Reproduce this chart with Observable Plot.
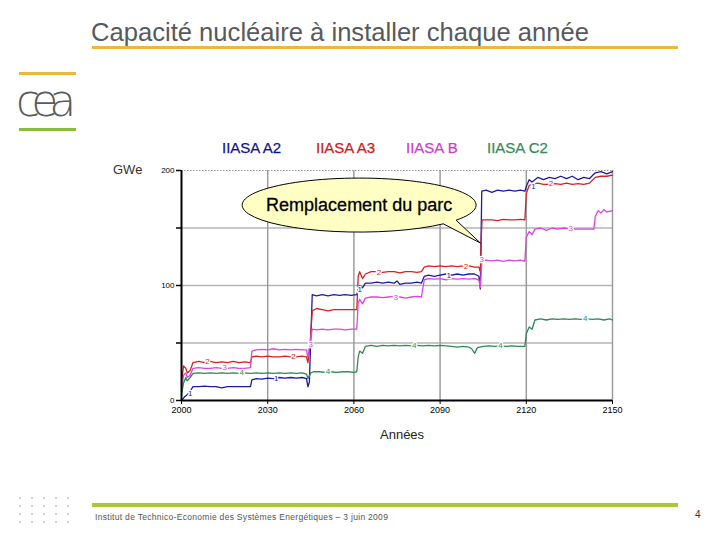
<!DOCTYPE html>
<html><head><meta charset="utf-8">
<script src="https://cdn.jsdelivr.net/npm/d3@7"></script>
<script src="https://cdn.jsdelivr.net/npm/@observablehq/plot@0.6"></script>
<style>
html,body{margin:0;padding:0;background:#fff;}
#page{position:relative;width:723px;height:539px;overflow:hidden;font-family:"Liberation Sans",Arial,sans-serif;}
.abs{position:absolute;white-space:nowrap;line-height:1;}
</style></head><body><div id="page"></div>
<script>
// ---- data ----
const titleText = "Capacité nucléaire à installer chaque année";
const unitLabel = "GWe";
const xLabel = "Années";
const footerText = "Institut de Technico-Economie des Systèmes Energétiques  –  3 juin 2009";
const pageNumber = "4";
const seriesNames = ["IIASA A2", "IIASA A3", "IIASA B", "IIASA C2"];
const seriesTags = ["1", "2", "3", "4"];
const xTicks = [2000, 2030, 2060, 2090, 2120, 2150];
const yTicks = [0, 50, 100, 150, 200];
const yTickLabels = [0, 100, 200];

const seriesA2 = [[2000,0],[2001,3],[2002,5],[2003,8],[2004,12],[2006,12],[2008,12.5],[2010,12],[2012,12],[2014,11],[2016,12],[2018,12],[2020,12],[2022,12],[2024,12],[2024.5,18],[2026,19],[2028,18.5],[2030,19.5],[2032,19],[2034,20],[2036,19.5],[2038,20],[2040,19.5],[2042,20],[2043.5,19],[2044,12],[2044.5,16],[2045.5,92],[2047,91],[2049,92],[2051,91],[2053,92],[2055,91.5],[2057,92],[2059,91.5],[2061,92],[2061.5,96],[2062,100],[2063,98],[2064,102],[2066,102],[2068,103],[2070,102],[2072,103],[2074,102],[2075,104],[2076,101],[2078,102],[2080,102],[2082,103],[2083.5,102],[2084.5,108],[2086,109],[2088,108],[2090,109],[2092,110],[2094,109],[2096,110],[2098,109],[2100,110],[2102,110],[2103.5,108],[2104,97],[2104.5,182],[2106,183],[2108,181],[2110,183],[2112,182],[2114,183],[2116,182],[2118,183],[2119.5,182],[2120,186],[2121,192],[2122,190],[2124,194],[2126,192],[2128,194],[2130,193],[2132,195],[2134,193],[2136,195],[2138,192],[2140,194],[2142,193],[2144,198],[2146,199],[2148,197],[2150,199]];
const seriesA3 = [[2000,15],[2000.7,30],[2001.5,28],[2002,24],[2003,26],[2004,33],[2006,34],[2008,33],[2010,34],[2012,33],[2014,33.5],[2016,33],[2018,34],[2020,33],[2022,33.5],[2024,33],[2024.5,38],[2026,38.5],[2028,38],[2030,38.5],[2032,38],[2034,38],[2036,38.5],[2038,38],[2040,38],[2042,38.5],[2043.5,38],[2044,33],[2044.8,50],[2045.5,78],[2047,80],[2049,79],[2051,78],[2053,79],[2055,79],[2057,79],[2059,79],[2061,79],[2061.5,108],[2062,112],[2063,106],[2064,110],[2066,112],[2068,112],[2070,111.5],[2072,112],[2074,112],[2076,111],[2078,112],[2080,112],[2082,111.5],[2083.5,112],[2084.5,116],[2086,117],[2088,116.5],[2090,117],[2092,116.5],[2094,117],[2096,116.5],[2098,117],[2100,117],[2102,116],[2103.5,116],[2104,112],[2104.3,140],[2104.6,157],[2106,157],[2108,157],[2110,156.5],[2112,157.5],[2114,157],[2116,157],[2118,157.5],[2119.5,157],[2120,180],[2121,187],[2122,188],[2124,189],[2126,188],[2128,188],[2130,188.5],[2132,188],[2134,189],[2136,188],[2138,188.5],[2140,188],[2142,189],[2144,194],[2146,195],[2148,195],[2150,196]];
const seriesB = [[2000,8],[2000.7,22],[2001.5,24],[2002,20],[2003,22],[2004,28],[2006,28.5],[2008,28],[2010,28],[2012,28.5],[2014,28],[2016,28],[2018,28.5],[2020,28],[2022,28],[2024,28.5],[2024.5,43],[2026,44],[2028,44.5],[2030,44],[2032,45],[2034,44],[2036,44.5],[2038,44],[2040,44.5],[2042,44],[2043.5,44],[2044,37],[2045,55],[2045.5,62],[2047,61.5],[2049,62],[2051,61.5],[2053,62],[2055,62],[2057,61.5],[2059,62],[2061,62],[2061.5,85],[2062,88],[2063,84],[2064,89],[2066,90],[2068,90],[2070,89.5],[2072,90],[2074,90.5],[2076,90],[2078,89],[2080,90],[2082,90.5],[2083.5,90],[2084.5,105],[2086,106],[2088,105.5],[2090,106],[2092,105],[2094,106],[2096,105.5],[2098,106],[2100,105.5],[2102,106],[2103.5,105],[2104,98],[2104.5,121],[2106,122],[2108,121.5],[2110,122],[2112,121],[2114,122],[2116,121.5],[2118,122],[2119.5,121],[2120,142],[2121,147],[2122,144],[2123,149],[2125,150],[2127,148],[2129,150],[2131,149],[2133,150],[2135,149],[2137,149],[2139,149],[2141,149],[2143.5,149],[2144,160],[2145,165],[2146,163],[2147,166],[2148,164],[2150,165]];
const seriesC2 = [[2000,5],[2000.7,15],[2001.5,20],[2002,17],[2003,20],[2004,23.5],[2006,24],[2008,23.5],[2010,24],[2012,23.5],[2014,24],[2016,23.5],[2018,24],[2020,23.5],[2022,24],[2024,23.5],[2026,24],[2028,23.5],[2030,24],[2032,23.5],[2034,24],[2036,23.5],[2038,24],[2040,23.5],[2042,24],[2043.5,23],[2044,19],[2045,24],[2046,25],[2048,25],[2050,24.5],[2052,25],[2054,24.5],[2056,25],[2058,25],[2060,24.5],[2061,25],[2061.5,38],[2062,43],[2063,41],[2064,47],[2066,48],[2068,47],[2070,48],[2072,47.5],[2074,48],[2076,47.5],[2078,48],[2080,47.5],[2082,48],[2084,47.5],[2086,48],[2088,47.5],[2090,48],[2092,47.5],[2094,47],[2096,46.5],[2098,47],[2100,46.5],[2101,45],[2102,41],[2103,46],[2105,47],[2107,47.5],[2109,47],[2111,47.5],[2113,47],[2115,47.5],[2117,47],[2119.5,47],[2120,58],[2121,64],[2122,62],[2123,70],[2125,71],[2127,70],[2129,71],[2131,70.5],[2133,71],[2135,70.5],[2137,71],[2139,70.5],[2141,71],[2143,70.5],[2145,71],[2147,70],[2149,71],[2150,70]];

const tagsA2 = [[2003,6],[2033,19.5],[2062,97],[2093,109],[2122.5,186]];
const tagsA3 = [[2009,34],[2039,38],[2068.7,111.6],[2099,117],[2128.6,188.4]];
const tagsB  = [[2015,28.5],[2045,48.7],[2074.6,89.5],[2104.5,122.6],[2135.5,149.3]];
const tagsC2 = [[2021,24],[2051,25],[2081,48],[2111,47.5],[2140.5,71]];

const calloutText = "Remplacement du parc";
const calloutCenter = [2062, 169.5];
const calloutTip = [2104.2, 136.5];

// ---- styles ----
const colors = ["#1c1c9c", "#d42222", "#dd44dd", "#2e8b57"];
const legendColors = ["#14148a", "#cc1c1c", "#cc3fcc", "#3a8a60"];
const FONT = "Liberation Sans, Arial, sans-serif";

const page = document.getElementById("page");
function addDiv(html, style) {
  const d = document.createElement("div");
  d.className = "abs";
  d.innerHTML = html;
  d.setAttribute("style", style);
  page.appendChild(d);
  return d;
}

// title
addDiv(titleText, "left:91px;top:20px;font-size:25.6px;color:#58595b;");
addDiv("", "left:92px;top:46px;width:586px;height:3px;background:#e9b83c;");
// logo
addDiv("", "left:19px;top:72px;width:57px;height:3px;background:#e9b83c;");
addDiv("cea", "left:16px;top:79px;font-family:'DejaVu Sans';font-size:44px;letter-spacing:-9px;color:#5a5b5d;font-weight:200;");
addDiv("", "left:19px;top:128px;width:57px;height:3px;background:#8bbb3a;");
// legend
const legendX = [222, 316, 406, 487];
seriesNames.forEach((n, i) => addDiv(n, `left:${legendX[i]}px;top:140px;font-size:15px;color:${legendColors[i]};-webkit-text-stroke:0.25px ${legendColors[i]};`));
// unit
addDiv(unitLabel, "left:113px;top:163px;font-size:13px;color:#333;");
// x label
addDiv(xLabel, "left:380px;top:428px;font-size:13px;color:#222;");
// footer
addDiv("", "left:92px;top:503px;width:586px;height:4px;background:#a8c83a;");
addDiv(footerText, "left:95px;top:513px;font-size:8.5px;color:#555;letter-spacing:0.3px;");
addDiv(pageNumber, "left:695px;top:510px;font-size:10px;color:#333;");
addDiv("", "left:14px;top:494px;width:64px;height:34px;background-image:radial-gradient(circle,#d0d0d0 0.7px,transparent 1.1px);background-size:12px 8px;");

const seriesData = [seriesA2, seriesA3, seriesB, seriesC2];
const tagData = [tagsA2, tagsA3, tagsB, tagsC2];

const plot = Plot.plot({
  width: 470, height: 260,
  marginLeft: 31, marginRight: 8, marginTop: 10, marginBottom: 20,
  style: {fontFamily: FONT, background: "transparent", overflow: "visible", color: "#000"},
  x: {domain: [2000, 2150], label: null},
  y: {domain: [0, 200], label: null},
  marks: [
    Plot.gridY([50, 100, 150], {stroke: "#b4b4b4", strokeOpacity: 1, strokeWidth: 1.5}),
    Plot.gridX(xTicks.slice(1), {stroke: "#9c9c9c", strokeOpacity: 1, strokeWidth: 1.5}),
    Plot.ruleY([200], {stroke: "#999", strokeDasharray: "1.5,1.5"}),
    ...seriesData.map((s, i) => Plot.line(s, {x: d => d[0], y: d => d[1], stroke: colors[i], strokeWidth: 1.3})),
    ...tagData.map((t, i) => Plot.text(t, {x: d => d[0], y: d => d[1], text: () => seriesTags[i], fill: colors[i], stroke: "white", strokeWidth: 2.5, fontSize: 8})),
    Plot.axisY(yTicks, {tickFormat: d => yTickLabels.includes(d) ? String(d) : "", fontSize: 8, tickSize: 5, tickPadding: 2, stroke: "#000", strokeWidth: 1.5}),
    Plot.axisX(xTicks, {tickFormat: d => String(d), fontSize: 9, tickSize: 4, tickPadding: 2}),
    Plot.ruleX([2000], {stroke: "#000", strokeWidth: 2}),
    Plot.ruleY([0], {stroke: "#000", strokeWidth: 2})
  ]
});
plot.setAttribute("style", "position:absolute;left:150px;top:160px;overflow:visible;font-family:" + FONT + ";background:transparent;");
page.appendChild(plot);

// callout bubble positioned through the plot's scales
const sx = plot.scale("x"), sy = plot.scale("y");
const cx = sx.apply(calloutCenter[0]), cy = sy.apply(calloutCenter[1]);
const tx = sx.apply(calloutTip[0]), ty = sy.apply(calloutTip[1]);
const rx = 117, ry = 27;
const pt = a => [cx + rx * Math.cos(a * Math.PI / 180), cy + ry * Math.sin(a * Math.PI / 180)];
const p1 = pt(44), p2 = pt(34);
const g = d3.select(plot).append("g");
g.append("path")
  .attr("d", `M${p1[0]},${p1[1]} A${rx},${ry} 0 1 1 ${p2[0]},${p2[1]} L${tx},${ty} Z`)
  .attr("fill", "#ffffc4").attr("stroke", "#000").attr("stroke-width", 1);
g.append("text").attr("x", cx).attr("y", cy).attr("dy", "0.35em")
  .attr("text-anchor", "middle").attr("font-size", 18).attr("fill", "#000")
  .attr("stroke", "#000").attr("stroke-width", 0.3)
  .attr("font-family", FONT).text(calloutText);
</script>
</body></html>
